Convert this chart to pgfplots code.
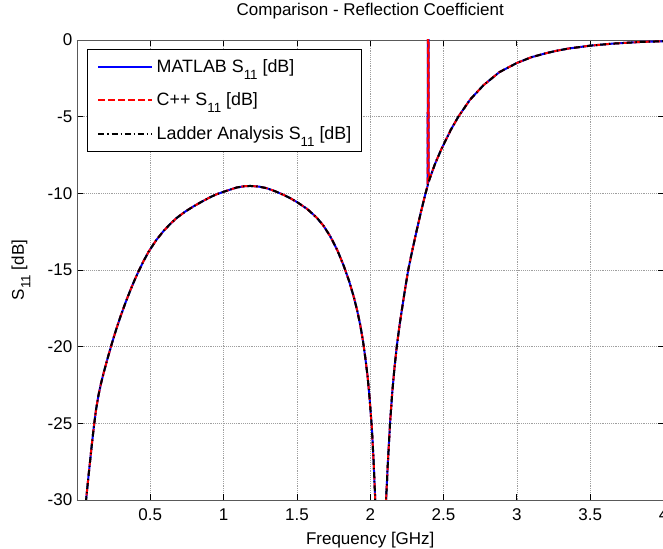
\documentclass[border=0pt]{standalone}
\usepackage{fontspec}
\setmainfont{Liberation Sans}
\usepackage{pgfplots}
\pgfplotsset{compat=1.18}
\usepackage{pgfplotstable}
\usetikzlibrary{calc}
\newcommand\sub[1]{\raisebox{-5pt}{\fontsize{10}{12}\selectfont #1}}
\newcommand\fnt{\fontsize{12.75}{15}\selectfont}
\newcommand\lfnt{\fontsize{13.4}{15}\selectfont}

\pgfplotstableread{
f s lad
0.050 -31.0 -31.0
0.062 -30.0 -30.0
0.080 -28.3 -28.3
0.100 -26.5 -26.5
0.114 -25.3 -25.3
0.130 -24.1 -24.1
0.148 -23.1 -23.1
0.165 -22.35 -22.35
0.182 -21.7 -21.7
0.210 -20.72 -20.72
0.239 -19.76 -19.76
0.265 -18.95 -18.95
0.295 -18.08 -18.08
0.330 -17.15 -17.15
0.364 -16.32 -16.32
0.390 -15.72 -15.72
0.420 -15.08 -15.08
0.455 -14.40 -14.40
0.489 -13.80 -13.80
0.540 -13.06 -13.06
0.591 -12.45 -12.45
0.640 -11.96 -11.96
0.682 -11.59 -11.59
0.740 -11.18 -11.18
0.795 -10.85 -10.85
0.850 -10.55 -10.55
0.909 -10.25 -10.25
0.950 -10.07 -10.07
1.000 -9.90 -9.90
1.050 -9.74 -9.74
1.090 -9.62 -9.62
1.140 -9.54 -9.54
1.182 -9.52 -9.52
1.240 -9.56 -9.56
1.295 -9.67 -9.67
1.350 -9.86 -9.86
1.409 -10.1 -10.1
1.455 -10.32 -10.32
1.500 -10.57 -10.57
1.570 -11.02 -11.02
1.636 -11.6 -11.6
1.680 -12.1 -12.1
1.727 -12.8 -12.8
1.775 -13.7 -13.7
1.818 -14.7 -14.7
1.855 -15.7 -15.7
1.886 -16.7 -16.7
1.910 -17.6 -17.6
1.932 -18.6 -18.6
1.950 -19.6 -19.6
1.966 -20.7 -20.7
1.982 -21.95 -21.95
1.995 -23.3 -23.3
2.011 -25.3 -25.3
2.023 -27.5 -27.5
2.034 -30.0 -30.0
2.050 -36 -36
2.070 -50 -50
2.090 -36 -36
2.108 -30.0 -30.0
2.120 -27.6 -27.6
2.135 -25.0 -25.0
2.150 -23.0 -23.0
2.165 -21.4 -21.4
2.182 -19.9 -19.9
2.200 -18.6 -18.6
2.214 -17.7 -17.7
2.235 -16.4 -16.4
2.259 -15.0 -15.0
2.285 -13.8 -13.8
2.316 -12.45 -12.45
2.345 -11.25 -11.25
2.373 -10.15 -10.15
2.390 -9.55 -9.55
2.392 -9.5 nan
2.393 20 nan
2.398 20 nan
2.399 -9.2 nan
2.407 -9.0 -9.0
2.441 -8.1 -8.1
2.486 -7.1 -7.1
2.550 -5.85 -5.85
2.601 -5.0 -5.0
2.680 -3.9 -3.9
2.772 -2.95 -2.95
2.880 -2.1 -2.1
3.000 -1.5 -1.5
3.100 -1.12 -1.12
3.200 -0.86 -0.86
3.272 -0.7 -0.7
3.350 -0.56 -0.56
3.500 -0.37 -0.37
3.650 -0.24 -0.24
3.840 -0.13 -0.13
4.000 -0.08 -0.08
}\data

\begin{document}
\begin{tikzpicture}
\begin{axis}[
  name=ax,
  scale only axis,
  width=439.9pt, height=345pt,
  xmin=0, xmax=4, ymin=-30, ymax=0,
  xtick={0.5,1,1.5,2,2.5,3,3.5,4},
  xticklabels={0.5,1,1.5,2,2.5,3,3.5,4},
  ytick={-30,-25,-20,-15,-10,-5,0},
  yticklabels={-30,-25,-20,-15,-10,-5,0},
  tick align=inside, tick pos=both,
  major tick length=4.5pt,
  tick style={black, line width=0.6pt},
  ticklabel style={font=\fnt},
  xticklabel style={yshift=-3pt},
  grid=major,
  grid style={densely dotted, gray!75, line width=0.5pt},
  axis line style={gray!70!black, line width=0.5pt},
  title={Comparison - Reflection Coefficient},
  title style={font=\fnt, at={(axis description cs:0.5,1.0446)}, anchor=center},
  xlabel={Frequency [GHz]},
  xlabel style={font=\fnt, at={(axis description cs:0.5,-0.087)}, anchor=center},
  ylabel={S\sub{11} [dB]},
  ylabel style={font=\fnt, at={(axis description cs:-0.0955,0.5)}, anchor=center, rotate=0},
  legend cell align=left,
  legend image code/.code={\draw[#1] (0pt,0pt) -- (40.5pt,0pt);},
  legend style={at={(axis description cs:0.01705,0.9804)}, anchor=north west,
    draw=black, line width=0.6pt, fill=white, font=\lfnt,
    inner xsep=7.5pt, inner ysep=7.5pt, row sep=14pt,
    nodes={inner sep=0pt}, column sep=2.5pt},
]
\addplot[blue, line width=1.5pt] table[x=f, y=s] {\data};
\addlegendentry{MATLAB S\sub{11} [dB]}
\addplot[red, line width=1.5pt, dash pattern=on 5pt off 2.5pt] table[x=f, y=s] {\data};
\addlegendentry{C++ S\sub{11} [dB]}
\addplot[black, line width=1.5pt, dash pattern=on 4.5pt off 2.2pt on 1pt off 2.2pt] table[x=f, y=lad] {\data};
\addlegendentry{Ladder Analysis S\sub{11} [dB]}
\end{axis}
\pgfresetboundingbox
\path[use as bounding box] ($(ax.south west)+(-57.75pt,-36.75pt)$) rectangle ($(ax.north east)+(-0.375pt,30pt)$);
\end{tikzpicture}
\end{document}
